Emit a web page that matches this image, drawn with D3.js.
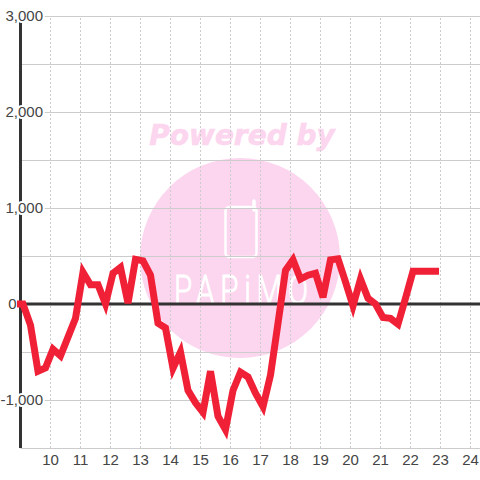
<!DOCTYPE html>
<html>
<head>
<meta charset="utf-8">
<script src="https://cdnjs.cloudflare.com/ajax/libs/d3/7.8.5/d3.min.js"></script>
<style>
html, body { margin: 0; padding: 0; background: #fff; }
svg { display: block; }
text { font-family: "Liberation Sans", Arial, sans-serif; }
</style>
</head>
<body>
<div id="chart-area"></div>
<script>
const times = ["9:00", "9:05", "9:20", "9:35", "9:50",
    "10:05", "10:20", "10:35", "10:50",
    "11:05", "11:20", "11:35", "11:50",
    "12:05", "12:20", "12:35", "12:50",
    "13:05", "13:20", "13:35", "13:50",
    "14:05", "14:20", "14:35", "14:50",
    "15:05", "15:20", "15:35", "15:50",
    "16:05", "16:20", "16:35", "16:50",
    "17:05", "17:20", "17:35", "17:50",
    "18:05", "18:20", "18:35", "18:50",
    "19:05", "19:20", "19:35", "19:50",
    "20:05", "20:20", "20:35", "20:50",
    "21:05", "21:20", "21:35", "21:50",
    "22:05", "22:20", "22:35", "22:50"]
const values = [0, 0, -220, -700, -665,
    -470, -540, -345, -150,
    330, 200, 200, 0,
    320, 380, 10, 465,
    450, 300, -200, -250,
    -670, -500, -900, -1030,
    -1130, -700, -1170, -1310,
    -900, -710, -760, -930,
    -1070, -740, -200, 350,
    460, 260, 300, 320,
    70, 460, 470, 230,
    -20, 260, 60, 0,
    -140, -150, -210, 60,
    340, 340, 340, 340]
const xTicks = [10, 11, 12, 13, 14, 15, 16, 17, 18, 19, 20, 21, 22, 23, 24]
const yGridTicks = [-1500, -1000, -500, 0, 500, 1000, 1500, 2000, 2500, 3000]
const yLabelTicks = [-1000, 0, 1000, 2000, 3000]
const yLabels = ["-1,000", "0", "1,000", "2,000", "3,000"]

const totalWidth = 480
const totalHeight = 480
const LEFT = 20.5
const TOP = 16
const BOTTOM = 448

const svg = d3.select("#chart-area")
    .append("svg")
    .attr("width", totalWidth)
    .attr("height", totalHeight)

const xScale = d3.scaleLinear()
    .domain([9, 24.3167])
    .range([LEFT, totalWidth])
const yScale = d3.scaleLinear()
    .domain([-1500, 3000])
    .range([BOTTOM, TOP])

const hour = function(t) {
    const parts = t.split(":")
    return +parts[0] + parts[1] / 60
}

// watermark
const mark = svg.append("g").attr("class", "watermark")
mark.append("circle")
    .attr("cx", 240)
    .attr("cy", 258)
    .attr("r", 100)
    .attr("fill", "#fcd5ee")
mark.append("text")
    .attr("x", 242)
    .attr("y", 145)
    .attr("text-anchor", "middle")
    .attr("font-size", 28)
    .attr("font-weight", "bold")
    .attr("font-style", "italic")
    .attr("fill", "#fcd5ee")
    .attr("stroke", "#fcd5ee")
    .attr("stroke-width", 0.6)
    .style("font-family", "'DejaVu Sans'")
    .text("Powered by")
mark.append("rect")
    .attr("x", 225.5)
    .attr("y", 207)
    .attr("width", 31)
    .attr("height", 50)
    .attr("rx", 4)
    .attr("fill", "none")
    .attr("stroke", "#fff")
    .attr("stroke-width", 2.5)
mark.append("line")
    .attr("x1", 254)
    .attr("x2", 254)
    .attr("y1", 201)
    .attr("y2", 210)
    .attr("stroke", "#fff")
    .attr("stroke-width", 3.5)
    .attr("stroke-linecap", "round")
mark.append("text")
    .attr("transform", "translate(174, 304) scale(0.72, 1)")
    .attr("textLength", 186)
    .attr("font-size", 41)
    .attr("font-weight", 300)
    .attr("fill", "#fff")
    .attr("stroke", "#fff")
    .attr("stroke-width", 1)
    .style("font-family", "Roboto")
    .text("PAPiMO")

// grid
const yGrid = svg.append("g")
    .attr("class", "y grid")
    .attr("transform", `translate(${LEFT}, 0)`)
    .call(d3.axisRight(yScale).tickValues(yGridTicks).tickSize(totalWidth - LEFT).tickFormat(""))
yGrid.select(".domain").remove()
yGrid.selectAll("line").attr("stroke", "#ccc").attr("stroke-width", 1)

// LEFT is already on the half pixel, so no extra axis offset here
const xGrid = svg.append("g")
    .attr("class", "x grid")
    .attr("transform", `translate(0, ${BOTTOM})`)
    .call(d3.axisTop(xScale).tickValues(xTicks).tickSize(BOTTOM - TOP).tickFormat("").offset(0))
xGrid.select(".domain").remove()
xGrid.selectAll("line")
    .attr("stroke", "#ccc")
    .attr("stroke-width", 1)
    .attr("stroke-dasharray", "2,2")

// main axis lines
svg.append("line")
    .attr("x1", LEFT)
    .attr("x2", LEFT)
    .attr("y1", TOP)
    .attr("y2", BOTTOM)
    .attr("stroke", "#333")
    .attr("stroke-width", 3)
svg.append("line")
    .attr("x1", LEFT)
    .attr("x2", totalWidth)
    .attr("y1", yScale(0))
    .attr("y2", yScale(0))
    .attr("stroke", "#333")
    .attr("stroke-width", 3)

// tick labels
const xAxis = svg.append("g")
    .attr("class", "x axis")
    .attr("transform", `translate(0, ${BOTTOM})`)
    .call(d3.axisBottom(xScale).tickValues(xTicks).tickSize(0).tickPadding(6).offset(0))
xAxis.select(".domain").remove()
xAxis.selectAll("text")
    .attr("font-size", 15)
    .attr("fill", "#444")
    .style("font-family", "'Liberation Sans'")

const yAxis = svg.append("g")
    .attr("class", "y axis")
    .attr("transform", "translate(43, 0)")
    .call(d3.axisLeft(yScale).tickValues(yLabelTicks).tickSize(0).tickPadding(0)
        .tickFormat((d, i) => yLabels[i]))
yAxis.select(".domain").remove()
yAxis.selectAll("text")
    .attr("x", d => d === 0 ? -26.5 : 0)
    .attr("font-size", 15)
    .attr("fill", "#444")
    .attr("stroke", "#fff")
    .attr("stroke-width", 4)
    .attr("paint-order", "stroke")
    .style("font-family", "'Liberation Sans'")

// series
const line = d3.line()
    .x((d, i) => xScale(hour(times[i])))
    .y(d => yScale(d))

svg.append("path")
    .attr("class", "series")
    .attr("d", line(values))
    .attr("fill", "none")
    .attr("stroke", "#f02037")
    .attr("stroke-width", 7)
    .attr("stroke-linecap", "square")
</script>
</body>
</html>
